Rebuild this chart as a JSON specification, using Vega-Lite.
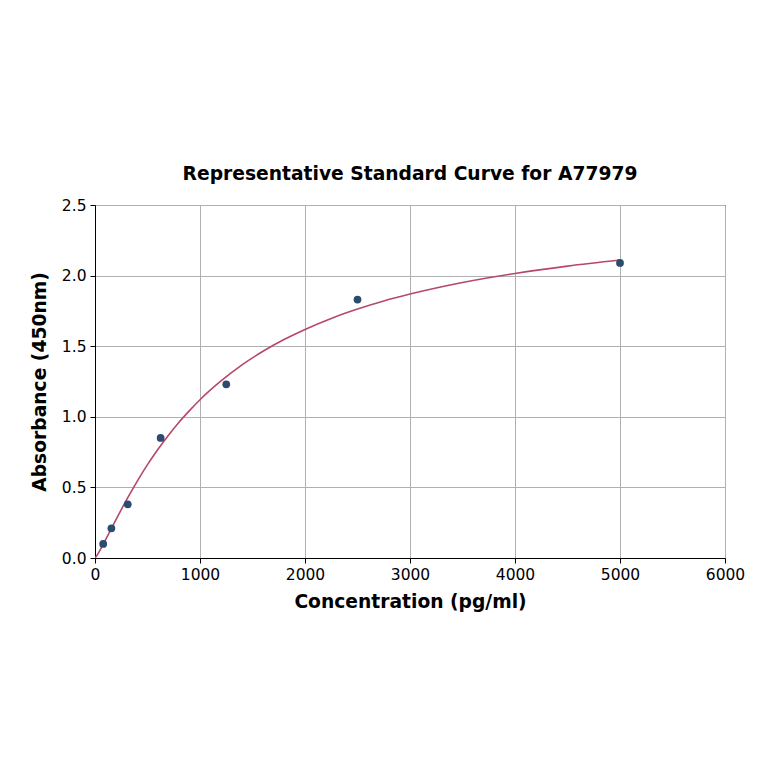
{
  "$schema": "https://vega.github.io/schema/vega-lite/v6.json",
  "width": 630,
  "height": 353,
  "autosize": {"type": "none"},
  "padding": {"left": 95, "top": 205, "right": 39, "bottom": 206},
  "background": "white",
  "title": {
    "text": "Representative Standard Curve for A77979",
    "font": "DejaVu Sans",
    "fontSize": 18.7,
    "fontWeight": "bold",
    "color": "#000000",
    "offset": 14
  },
  "datasets": {
    "points": [
      {"conc": 78, "od": 0.1},
      {"conc": 156, "od": 0.21},
      {"conc": 312, "od": 0.38},
      {"conc": 625, "od": 0.85},
      {"conc": 1250, "od": 1.23},
      {"conc": 2500, "od": 1.83},
      {"conc": 5000, "od": 2.09}
    ],
    "curve": [
      {"conc": 0, "od": 0.0},
      {"conc": 25, "od": 0.026},
      {"conc": 50, "od": 0.058},
      {"conc": 100, "od": 0.128},
      {"conc": 200, "od": 0.272},
      {"conc": 300, "od": 0.411},
      {"conc": 400, "od": 0.541},
      {"conc": 500, "od": 0.661},
      {"conc": 600, "od": 0.770},
      {"conc": 700, "od": 0.870},
      {"conc": 800, "od": 0.962},
      {"conc": 900, "od": 1.044},
      {"conc": 1000, "od": 1.121},
      {"conc": 1200, "od": 1.254},
      {"conc": 1400, "od": 1.368},
      {"conc": 1600, "od": 1.464},
      {"conc": 1800, "od": 1.547},
      {"conc": 2000, "od": 1.619},
      {"conc": 2250, "od": 1.697},
      {"conc": 2500, "od": 1.763},
      {"conc": 2750, "od": 1.820},
      {"conc": 3000, "od": 1.869},
      {"conc": 3500, "od": 1.951},
      {"conc": 4000, "od": 2.015},
      {"conc": 4500, "od": 2.067},
      {"conc": 5000, "od": 2.110}
    ]
  },
  "encoding": {
    "x": {
      "field": "conc",
      "type": "quantitative",
      "scale": {"domain": [0, 6000], "nice": false},
      "axis": {
        "title": "Concentration (pg/ml)",
        "values": [0, 1000, 2000, 3000, 4000, 5000, 6000],
        "format": "d"
      }
    },
    "y": {
      "field": "od",
      "type": "quantitative",
      "scale": {"domain": [0, 2.5], "nice": false},
      "axis": {
        "title": "Absorbance (450nm)",
        "values": [0, 0.5, 1, 1.5, 2, 2.5],
        "format": ".1f"
      }
    }
  },
  "layer": [
    {
      "data": {"name": "curve"},
      "mark": {"type": "line", "color": "#b5486a", "strokeWidth": 1.6, "interpolate": "monotone", "clip": true}
    },
    {
      "data": {"name": "points"},
      "mark": {"type": "circle", "color": "#2b4c6e", "opacity": 1, "size": 60}
    }
  ],
  "config": {
    "view": {"stroke": "#000000", "strokeWidth": 1},
    "axis": {
      "labelFont": "DejaVu Sans",
      "labelFontSize": 15.5,
      "labelColor": "#000000",
      "labelFlush": false,
      "labelOverlap": false,
      "titleFont": "DejaVu Sans",
      "titleFontSize": 18.7,
      "titleFontWeight": "bold",
      "titleColor": "#000000",
      "domainColor": "#000000",
      "tickColor": "#000000",
      "tickSize": 5,
      "gridColor": "#b0b0b0",
      "gridWidth": 1,
      "gridOpacity": 1
    },
    "axisX": {"titlePadding": 10, "labelPadding": 4},
    "axisY": {"titlePadding": 12, "labelPadding": 4}
  }
}
